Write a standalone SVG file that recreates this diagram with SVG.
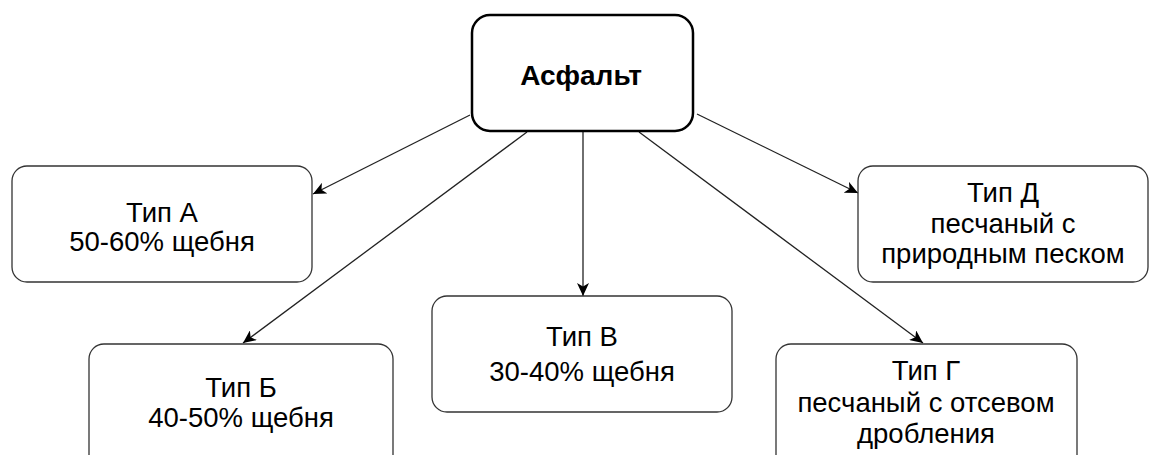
<svg xmlns="http://www.w3.org/2000/svg" width="1149" height="455" viewBox="0 0 1149 455">
<style>
.box{fill:#fff;stroke:#333;stroke-width:1.3}
.main{fill:#fff;stroke:#000;stroke-width:2.5}
.t{font-family:"Liberation Sans",Arial,sans-serif;font-size:27.5px;fill:#000;text-anchor:middle}
.b{font-weight:bold;font-size:28px}
.edge{stroke:#222;stroke-width:1.3;fill:none;marker-end:url(#ah)}
</style>
<defs>
<marker id="ah" markerUnits="userSpaceOnUse" markerWidth="14" markerHeight="12" viewBox="0 0 14 12" refX="13" refY="6" orient="auto">
<path d="M0,0 L13,6 L0,12 L3.5,6 Z" fill="#000"/>
</marker>
</defs>
<rect width="1149" height="455" fill="#fff"/>
<g id="connectors">
<line class="edge" x1="470" y1="115" x2="313" y2="194"/>
<line class="edge" x1="527" y1="132" x2="243" y2="343"/>
<line class="edge" x1="583" y1="132" x2="583" y2="296"/>
<line class="edge" x1="639" y1="132" x2="923" y2="343"/>
<line class="edge" x1="697" y1="114" x2="858" y2="193"/>
</g>
<g id="asphalt">
<rect class="main" x="472" y="15" width="221" height="116" rx="18"/>
<text class="t b" x="581" y="85">Асфальт</text>
</g>
<g id="typeA">
<rect class="box" x="12" y="166" width="300" height="116" rx="15"/>
<text class="t" x="162" y="222">Тип А</text>
<text class="t" x="162" y="251">50-60% щебня</text>
</g>
<g id="typeB">
<rect class="box" x="89" y="344" width="304" height="130" rx="15"/>
<text class="t" x="241" y="397">Тип Б</text>
<text class="t" x="241" y="427">40-50% щебня</text>
</g>
<g id="typeV">
<rect class="box" x="432" y="296" width="300" height="116" rx="15"/>
<text class="t" x="582" y="346">Тип В</text>
<text class="t" x="582" y="381">30-40% щебня</text>
</g>
<g id="typeG">
<rect class="box" x="776" y="344" width="301" height="130" rx="15"/>
<text class="t" x="926" y="380">Тип Г</text>
<text class="t" x="926" y="412">песчаный с отсевом</text>
<text class="t" x="926" y="443">дробления</text>
</g>
<g id="typeD">
<rect class="box" x="858" y="166" width="290" height="116" rx="15"/>
<text class="t" x="1003" y="202">Тип Д</text>
<text class="t" x="1003" y="233">песчаный с</text>
<text class="t" x="1003" y="263">природным песком</text>
</g>
</svg>
